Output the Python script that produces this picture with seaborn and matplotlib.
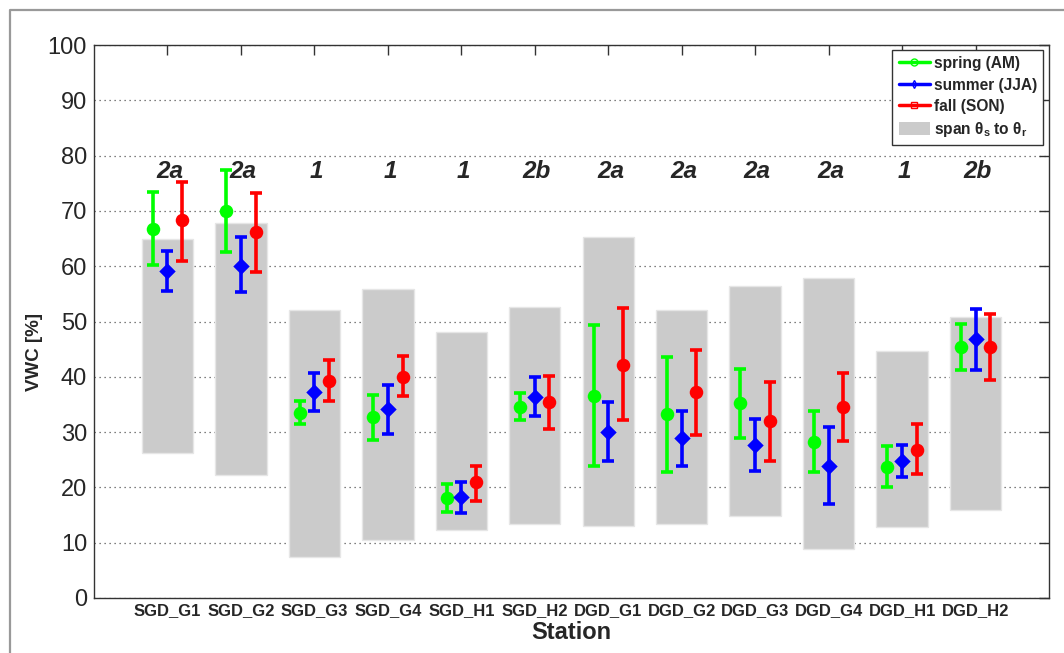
import matplotlib
matplotlib.use("Agg")
import matplotlib.pyplot as plt
from matplotlib.lines import Line2D
from matplotlib.patches import Patch
import numpy as np
import pandas as pd
import seaborn as sns

stations = ["SGD_G1", "SGD_G2", "SGD_G3", "SGD_G4", "SGD_H1", "SGD_H2",
            "DGD_G1", "DGD_G2", "DGD_G3", "DGD_G4", "DGD_H1", "DGD_H2"]
classes = ["2a", "2a", "1", "1", "1", "2b", "2a", "2a", "2a", "2a", "1", "2b"]

spring_mid = [66.8, 70.0, 33.5, 32.7, 18.0, 34.5, 36.6, 33.2, 35.3, 28.3, 23.6, 45.3]
spring_lo = [60.2, 62.5, 31.5, 28.6, 15.5, 32.1, 23.8, 22.7, 28.9, 22.7, 20.1, 41.3]
spring_hi = [73.4, 77.4, 35.6, 36.7, 20.6, 37.0, 49.3, 43.6, 41.5, 33.9, 27.4, 49.6]

summer_mid = [59.1, 60.1, 37.2, 34.2, 18.3, 36.3, 30.1, 28.9, 27.6, 23.9, 24.7, 46.9]
summer_lo = [55.5, 55.3, 33.8, 29.7, 15.4, 32.9, 24.8, 23.9, 22.9, 17.0, 21.9, 41.3]
summer_hi = [62.7, 65.2, 40.6, 38.5, 21.0, 39.9, 35.4, 33.8, 32.3, 30.9, 27.7, 52.3]

fall_mid = [68.3, 66.1, 39.3, 40.0, 20.9, 35.4, 42.1, 37.2, 32.0, 34.5, 26.8, 45.3]
fall_lo = [61.0, 59.0, 35.6, 36.5, 17.5, 30.6, 32.1, 29.4, 24.8, 28.4, 22.4, 39.4]
fall_hi = [75.2, 73.2, 43.0, 43.8, 23.8, 40.1, 52.4, 44.8, 39.1, 40.7, 31.4, 51.4]

theta_s = [65.0, 67.8, 52.1, 55.9, 48.1, 52.6, 65.3, 52.0, 56.4, 57.9, 44.7, 50.8]
theta_r = [26.2, 22.2, 7.4, 10.5, 12.3, 13.4, 13.1, 13.3, 14.9, 8.8, 12.8, 15.9]

season_labels = ["spring (AM)", "summer (JJA)", "fall (SON)"]
season_colors = ["#00ff00", "#0000ff", "#ff0000"]

sns.set_style("white")
plt.rcParams["font.family"] = ["Liberation Sans", "DejaVu Sans"]
plt.rcParams["mathtext.fontset"] = "custom"
plt.rcParams["mathtext.rm"] = "Liberation Sans"
plt.rcParams["mathtext.bf"] = "Liberation Sans:bold"
plt.rcParams["mathtext.it"] = "Liberation Sans:italic"

fig = plt.figure(figsize=(10.64, 6.53), dpi=100)
ax = fig.add_axes([94 / 1064, 1 - 598 / 653, (1049 - 94) / 1064, (598 - 45) / 653])

x = np.arange(1, len(stations) + 1)

# span theta_s to theta_r
ax.bar(x, np.array(theta_s) - np.array(theta_r), bottom=theta_r, width=0.7,
       color="#cbcbcb", edgecolor="#e6e6e6", linewidth=1, zorder=2)

offsets = [-0.2, 0.0, 0.2]
markers = ["o", "D", "o"]
msizes = [95, 70, 95]
groups = [(spring_mid, spring_lo, spring_hi), (summer_mid, summer_lo, summer_hi),
          (fall_mid, fall_lo, fall_hi)]

for (mid, lo, hi), off, col, mk, ms, lab in zip(groups, offsets, season_colors, markers, msizes, season_labels):
    mid = np.array(mid); lo = np.array(lo); hi = np.array(hi)
    xs = x + off
    ax.errorbar(xs, mid, yerr=[mid - lo, hi - mid], fmt="none", ecolor=col,
                elinewidth=2.6, capsize=4.5, capthick=2.6, zorder=3)
    df = pd.DataFrame({"x": xs, "y": mid})
    sns.scatterplot(data=df, x="x", y="y", ax=ax, color=col, marker=mk, s=ms,
                    edgecolor=col, linewidth=0, zorder=4, legend=False)

for xi, c in zip(x, classes):
    ax.text(xi + 0.03, 77.1, c, ha="center", va="center", fontsize=17.5,
            fontweight="bold", fontstyle="italic", zorder=7)

ax.set_xlim(0, 13)
ax.set_ylim(0, 100)
ax.set_yticks(np.arange(0, 101, 10))
ax.set_xticks(x)
ax.set_xticklabels(stations)
ax.yaxis.grid(True, linestyle=(0, (1, 3)), color="#555555", linewidth=0.9)
ax.set_axisbelow(True)
ax.tick_params(axis="both", direction="in", top=True, right=True, length=7,
               width=1, color="#333333")
ax.tick_params(axis="y", labelsize=17, pad=5)
for lbl in ax.get_xticklabels():
    lbl.set_family(["Liberation Sans Narrow", "Liberation Sans", "DejaVu Sans"])
    lbl.set_fontweight("bold")
    lbl.set_fontsize(12)
ax.set_xlabel("Station", fontsize=17, fontweight="bold",
              family=["Liberation Sans Narrow", "Liberation Sans", "DejaVu Sans"], labelpad=2)
ax.set_ylabel("VWC [%]", fontsize=13.5, fontweight="bold")
ax.yaxis.set_label_coords(-0.053, 0.445)
for sp in ax.spines.values():
    sp.set_color("#333333")
    sp.set_linewidth(1)

handles = [
    Line2D([], [], color=season_colors[0], marker="o", markersize=5, lw=2.5,
           markerfacecolor="none", label=season_labels[0]),
    Line2D([], [], color=season_colors[1], marker="d", markersize=4, lw=2.5,
           markerfacecolor="none", label=season_labels[1]),
    Line2D([], [], color=season_colors[2], marker="s", markersize=4, lw=2.5,
           markerfacecolor="none", label=season_labels[2]),
    Patch(facecolor="#cbcbcb", edgecolor="none",
          label=r"span θ$_{\mathbf{s}}$ to θ$_{\mathbf{r}}$"),
]
leg = ax.legend(handles=handles, loc="upper right", bbox_to_anchor=(0.9937, 0.991),
                borderaxespad=0, prop={"weight": "bold", "size": 11.2}, frameon=True,
                fancybox=False, edgecolor="#333333", framealpha=1,
                handlelength=2.0, handleheight=1.0, borderpad=0.4, labelspacing=0.38,
                handletextpad=0.25)
leg.get_frame().set_linewidth(1)
leg.set_zorder(6)

# outer figure frame (top and left edges)
fig.add_artist(Line2D([10 / 1064, 10 / 1064, 1.0], [0.0, 1 - 10 / 653, 1 - 10 / 653],
                      transform=fig.transFigure, color="#999999", linewidth=1.6))

fig.savefig("out.png", dpi=100)
